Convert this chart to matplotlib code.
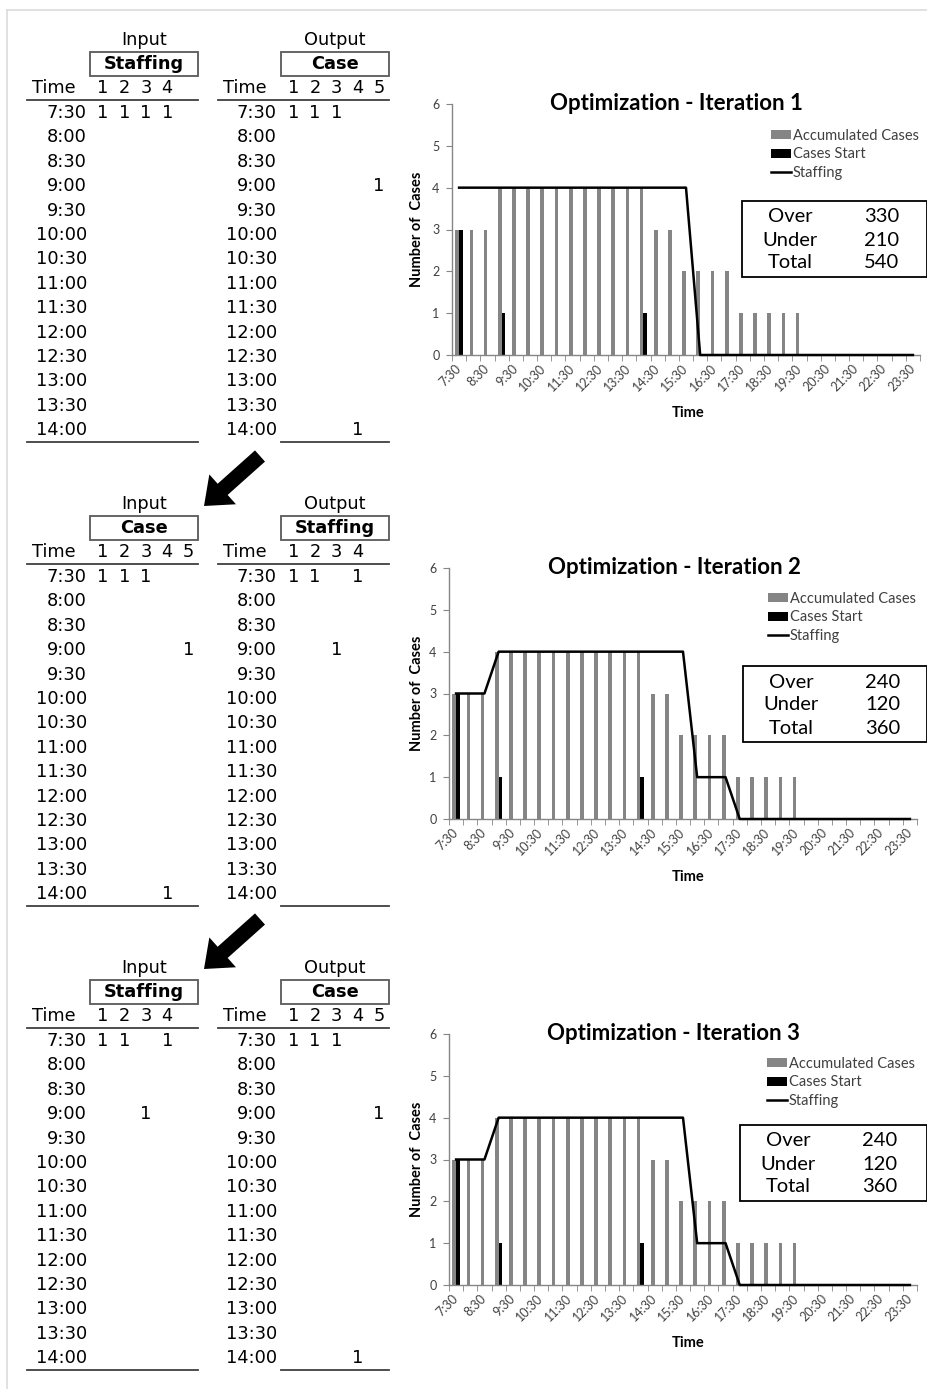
import numpy as np
import matplotlib.pyplot as plt
from matplotlib.patches import Rectangle, FancyArrow

W, H = 928, 1389

# half-hour slots on the chart axis
slot_labels = ['7:30', '8:00', '8:30', '9:00', '9:30', '10:00', '10:30', '11:00',
               '11:30', '12:00', '12:30', '13:00', '13:30', '14:00', '14:30', '15:00',
               '15:30', '16:00', '16:30', '17:00', '17:30', '18:00', '18:30', '19:00',
               '19:30', '20:00', '20:30', '21:00', '21:30', '22:00', '22:30', '23:00',
               '23:30']
accumulated_cases = [3, 3, 3, 4, 4, 4, 4, 4, 4, 4, 4, 4, 4, 4, 3, 3, 2,
                     2, 2, 2, 1, 1, 1, 1, 1, 0, 0, 0, 0, 0, 0, 0, 0]
cases_start = [3, 0, 0, 1, 0, 0, 0, 0, 0, 0, 0, 0, 0, 1, 0, 0, 0,
               0, 0, 0, 0, 0, 0, 0, 0, 0, 0, 0, 0, 0, 0, 0, 0]
staffing_iter1 = [4, 4, 4, 4, 4, 4, 4, 4, 4, 4, 4, 4, 4, 4, 4, 4, 4,
                  0, 0, 0, 0, 0, 0, 0, 0, 0, 0, 0, 0, 0, 0, 0, 0]
staffing_iter2 = [3, 3, 3, 4, 4, 4, 4, 4, 4, 4, 4, 4, 4, 4, 4, 4, 4,
                  1, 1, 1, 0, 0, 0, 0, 0, 0, 0, 0, 0, 0, 0, 0, 0]
staffing_iter3 = [3, 3, 3, 4, 4, 4, 4, 4, 4, 4, 4, 4, 4, 4, 4, 4, 4,
                  1, 1, 1, 0, 0, 0, 0, 0, 0, 0, 0, 0, 0, 0, 0, 0]

over_min = [330, 240, 240]
under_min = [210, 120, 120]
total_min = [540, 360, 360]

# schedule tables
table_times = ['7:30', '8:00', '8:30', '9:00', '9:30', '10:00', '10:30',
               '11:00', '11:30', '12:00', '12:30', '13:00', '13:30', '14:00']
staff_plan_a = {'7:30': [1, 2, 3, 4]}
staff_plan_b = {'7:30': [1, 2, 4], '9:00': [3]}
case_plan = {'7:30': [1, 2, 3], '9:00': [5], '14:00': [4]}

blocks = [
    (('Staffing', 4, staff_plan_a), ('Case', 5, case_plan)),
    (('Case', 5, case_plan), ('Staffing', 4, staff_plan_b)),
    (('Staffing', 4, staff_plan_b), ('Case', 5, case_plan)),
]
BLOCK_STEP = 464

TABLE_FONT = 'DejaVu Sans'
CHART_FONT = 'Lato'


def fig_xy(x, y):
    return x / W, 1 - y / H


def draw_table(ov, dy, heading, title, ncols, plan, x_box, x_time, x_time_r,
               x_col0, rule_x0, bottom_x0):
    ov.text(x_box + 54, 40 + dy, heading, ha='center', va='center',
            fontsize=12.8, family=TABLE_FONT)
    ov.add_patch(Rectangle((x_box, 52 + dy), 108, 24, fill=False,
                           edgecolor='#595959', lw=1.3))
    ov.text(x_box + 54, 64 + dy, title, ha='center', va='center',
            fontsize=12.8, fontweight='bold', family=TABLE_FONT)
    ov.text(x_time, 88 + dy, 'Time', ha='left', va='center',
            fontsize=12.8, family=TABLE_FONT)
    for k in range(ncols):
        ov.text(x_col0 + k * 21.4, 88 + dy, str(k + 1), ha='center',
                va='center', fontsize=12.8, family=TABLE_FONT)
    ov.plot([rule_x0, x_box + 108], [100 + dy, 100 + dy], color='#404040', lw=1.3)
    for i, t in enumerate(table_times):
        y = 113 + i * 24.4 + dy
        ov.text(x_time_r, y, t, ha='right', va='center',
                fontsize=12.8, family=TABLE_FONT)
        for col in plan.get(t, []):
            ov.text(x_col0 + (col - 1) * 21.4, y, '1', ha='center',
                    va='center', fontsize=12.8, family=TABLE_FONT)
    ov.plot([bottom_x0, x_box + 108], [442 + dy, 442 + dy], color='#404040', lw=1.3)


fig = plt.figure(figsize=(W / 100, H / 100), dpi=100)
ov = fig.add_axes([0, 0, 1, 1])
ov.set_xlim(0, W)
ov.set_ylim(H, 0)
ov.axis('off')

# light frame around the page
ov.plot([7, W], [10, 10], color='#dcdcdc', lw=1.2)
ov.plot([7, 7], [10, H], color='#dcdcdc', lw=1.2)

for b, (inp, outp) in enumerate(blocks):
    dy = b * BLOCK_STEP
    draw_table(ov, dy, 'Input', inp[0], inp[1], inp[2],
               x_box=90, x_time=32, x_time_r=87, x_col0=103,
               rule_x0=27, bottom_x0=27)
    draw_table(ov, dy, 'Output', outp[0], outp[1], outp[2],
               x_box=281, x_time=223, x_time_r=277, x_col0=293.5,
               rule_x0=218, bottom_x0=281)

# arrows between iterations
for tail, tip in [((260, 456), (204, 506)), ((260, 919), (204, 969))]:
    ov.add_patch(FancyArrow(tail[0], tail[1], tip[0] - tail[0], tip[1] - tail[1],
                            width=15, head_width=40, head_length=25,
                            length_includes_head=True, color='black', lw=0))

charts = [
    dict(left=452, right=920, top=104, bottom=355, title_x=676, legend=(771, 129),
         box=(742, 201), staffing=staffing_iter1),
    dict(left=449, right=917, top=568, bottom=819, title_x=674, legend=(768, 592),
         box=(743, 666), staffing=staffing_iter2),
    dict(left=449, right=917, top=1034, bottom=1285, title_x=673, legend=(767, 1057),
         box=(740, 1125), staffing=staffing_iter3),
]

x = np.arange(len(slot_labels))
axis_grey = '#868686'

for n, c in enumerate(charts):
    l, b_ = fig_xy(c['left'], c['bottom'])
    ax = fig.add_axes([l, b_, (c['right'] - c['left']) / W,
                       (c['bottom'] - c['top']) / H])
    ax.set_facecolor('none')

    bars_acc = ax.bar(x - 0.13, accumulated_cases, width=0.26, color='#858585',
                      label='Accumulated Cases', zorder=2)
    bars_start = ax.bar(x + 0.13, cases_start, width=0.26, color='black',
                        label='Cases Start', zorder=2)
    staff_line, = ax.plot(x, c['staffing'], color='black', lw=1.8,
                          label='Staffing', zorder=3, clip_on=False)

    ax.set_xlim(-0.5, len(slot_labels) - 0.5)
    ax.set_ylim(0, 6)
    ax.set_yticks(range(7))
    ax.set_xticks(x[::2])
    ax.set_xticklabels(slot_labels[::2], rotation=45, ha='right', va='center',
                       rotation_mode='anchor', fontsize=9, family=CHART_FONT,
                       color='#404040')
    ax.set_xticks(np.arange(-0.5, len(slot_labels), 1), minor=True)
    ax.tick_params(axis='x', which='major', length=0, pad=8)
    ax.tick_params(axis='x', which='minor', length=4, color=axis_grey, direction='out')
    ax.tick_params(axis='y', length=4, color=axis_grey, pad=5, labelsize=9,
                   labelcolor='#404040')
    for lab in ax.get_yticklabels():
        lab.set_family(CHART_FONT)
    for side in ['top', 'right']:
        ax.spines[side].set_visible(False)
    for side in ['left', 'bottom']:
        ax.spines[side].set_color(axis_grey)
        ax.spines[side].set_linewidth(1.0)

    span_x = c['right'] - c['left']
    span_y = c['bottom'] - c['top']
    ax.set_ylabel('Number of  Cases', fontsize=10.5, fontweight='bold',
                  family=CHART_FONT)
    ax.yaxis.set_label_coords((424 - c['left']) / span_x, 0.5)
    ax.set_xlabel('Time', fontsize=10.5, fontweight='bold', family=CHART_FONT)
    ax.xaxis.set_label_coords((688 - c['left']) / span_x, -51 / span_y)

    ov.text(c['title_x'], c['top'], f'Optimization - Iteration {n + 1}',
            ha='center', va='center', fontsize=16, fontweight='bold',
            family=CHART_FONT)

    leg = ax.legend([bars_acc, bars_start, staff_line],
                    ['Accumulated Cases', 'Cases Start', 'Staffing'],
                    loc='upper left', bbox_to_anchor=fig_xy(*c['legend']),
                    bbox_transform=fig.transFigure, frameon=False,
                    borderpad=0, borderaxespad=0, handlelength=1.35,
                    handleheight=0.55, handletextpad=0.15, labelspacing=0.3,
                    prop={'family': CHART_FONT, 'size': 10.5})
    for t in leg.get_texts():
        t.set_color('#404040')

    bx, by = c['box']
    ov.add_patch(Rectangle((bx, by), W - 1 - bx, 76, fill=False,
                           edgecolor='black', lw=1.3))
    rows = [('Over', over_min[n]), ('Under', under_min[n]), ('Total', total_min[n])]
    for k, (name, val) in enumerate(rows):
        yy = by + 16 + k * 23
        ov.text(bx + 48, yy, name, ha='center', va='center', fontsize=14.5,
                family=CHART_FONT)
        ov.text(bx + 140, yy, str(val), ha='center', va='center', fontsize=14.5,
                family=CHART_FONT)

fig.savefig('out.png', dpi=100, facecolor='white')
